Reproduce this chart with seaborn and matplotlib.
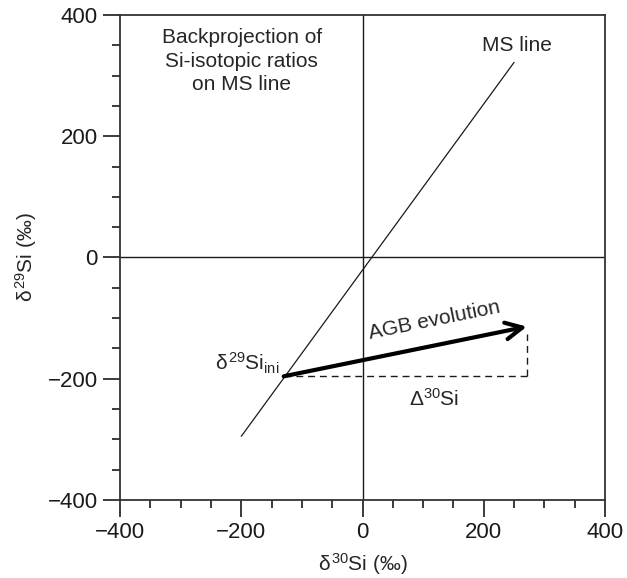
import matplotlib
matplotlib.use("Agg")
import matplotlib.pyplot as plt
import seaborn as sns
import pandas as pd
from matplotlib.ticker import MultipleLocator

# Mainstream (MS) correlation line endpoints
ms_x = [-200, 250]
ms_y = [-295, 322]

# Initial composition on the MS line and end of AGB evolution
ini_x, ini_y = -130, -196
agb_x, agb_y = 271, -114

axis_ticks = [-400, -200, 0, 200, 400]

sns.set_theme(style="ticks")
plt.rcParams["font.family"] = ["Liberation Sans", "DejaVu Sans"]
plt.rcParams["mathtext.fontset"] = "custom"
plt.rcParams["mathtext.rm"] = "Liberation Sans"
plt.rcParams["mathtext.it"] = "Liberation Sans"

fig = plt.figure(figsize=(6.27, 5.78), dpi=100)
ax = fig.add_axes([0.1914, 0.135, 0.7736, 0.839])

ms = pd.DataFrame({"x": ms_x, "y": ms_y})
sns.lineplot(data=ms, x="x", y="y", ax=ax, color="#1a1a1a", lw=0.9)

ax.axhline(0, color="#1a1a1a", lw=1.0)
ax.axvline(0, color="#1a1a1a", lw=1.0)

# dashed construction lines
ax.plot([ini_x, agb_x], [ini_y, ini_y], ls=(0, (5, 3.5)), color="#1a1a1a", lw=1.0)
ax.plot([agb_x, agb_x], [ini_y, agb_y - 12], ls=(0, (5, 3.5)), color="#1a1a1a", lw=1.0)

ax.annotate("", xy=(agb_x, agb_y), xytext=(ini_x, ini_y),
            arrowprops=dict(arrowstyle="->,head_length=1.0,head_width=0.5",
                            lw=3.0, color="black", shrinkA=0, shrinkB=0))

ax.set_xlim(-400, 400)
ax.set_ylim(-400, 400)
ax.set_xticks(axis_ticks)
ax.set_yticks(axis_ticks)
ax.xaxis.set_minor_locator(MultipleLocator(50))
ax.yaxis.set_minor_locator(MultipleLocator(50))
ax.tick_params(which="major", direction="out", length=12, width=1.2,
               labelsize=16, pad=4, colors="#1a1a1a")
ax.tick_params(which="minor", direction="out", length=6, width=1.2, colors="#1a1a1a")
for s in ax.spines.values():
    s.set_linewidth(1.3)
    s.set_color("#333333")

ax.set_xlabel(r"$\delta^{30}$Si (‰)", fontsize=15, labelpad=6)
ax.set_ylabel(r"$\delta^{29}$Si (‰)", fontsize=15, labelpad=6)

ax.text(-199, 324, "Backprojection of\nSi-isotopic ratios\non MS line", ha="center",
        va="center", fontsize=15, linespacing=1.3)
ax.text(255, 350, "MS line", ha="center", va="center", fontsize=15)
ax.text(-137, -175, r"$\delta^{29}$Si$_{\mathrm{ini}}$", ha="right", va="center", fontsize=15)
ax.text(118, -104, "AGB evolution", ha="center", va="center", fontsize=15, rotation=11.5)
ax.text(118, -233, r"$\Delta^{30}$Si", ha="center", va="center", fontsize=15)

fig.savefig("out.png", dpi=100)
